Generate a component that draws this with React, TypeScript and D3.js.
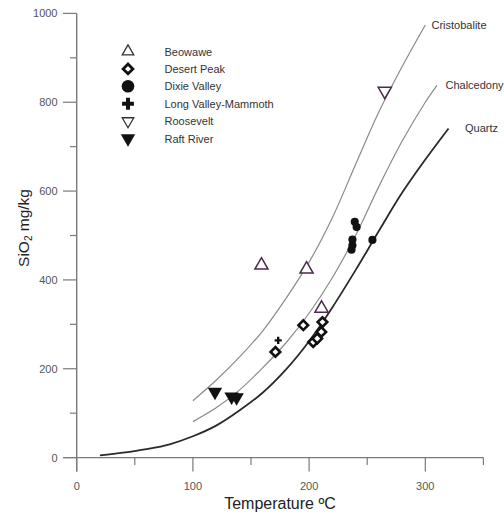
import React from "react";
import * as d3 from "d3";

// Silica geothermometer curves, SiO2 (mg/kg) against temperature (°C)
const cristobaliteT = [100, 120, 140, 160, 180, 200, 220, 240, 260, 280, 300];
const cristobaliteS = [128, 174, 226, 285, 358, 440, 540, 660, 778, 880, 974];

const chalcedonyT = [100, 120, 140, 160, 180, 200, 220, 240, 260, 280, 300, 310];
const chalcedonyS = [81, 112, 152, 202, 258, 325, 405, 500, 610, 712, 800, 838];

const quartzT = [20, 40, 60, 80, 100, 120, 140, 160, 180, 200, 220, 240, 260, 280, 300, 320];
const quartzS = [5, 11, 19, 30, 48, 72, 106, 146, 198, 262, 338, 422, 510, 596, 671, 741];

// Sample sites: temperature (°C) and SiO2 (mg/kg)
const beowaweT = [159, 197.8, 210.7];
const beowaweS = [433, 424, 336];

const desertPeakT = [171, 195, 203.5, 207, 210.5, 211.5];
const desertPeakS = [238, 298, 260, 268, 283, 305];

const dixieT = [239.3, 240.9, 237.3, 237.3, 236.5, 254.5];
const dixieS = [531, 519, 491, 478, 468, 490];

const longValleyT = [173.4];
const longValleyS = [264];

const rooseveltT = [265.1];
const rooseveltS = [825];

const raftT = [119, 133.3, 137.6];
const raftS = [148, 137, 135.5];

const legendNames = [
  "Beowawe",
  "Desert Peak",
  "Dixie Valley",
  "Long Valley-Mammoth",
  "Roosevelt",
  "Raft River",
];

const xTicks = [0, 100, 200, 300];
const xMinor = [50, 150, 250, 350];
const yTicks = [0, 200, 400, 600, 800, 1000];
const yMinor = [100, 300, 500, 700, 900];

const W = 504;
const H = 515;
const FONT = "'Liberation Sans', Arial, sans-serif";

export default function App() {
  const x = d3.scaleLinear().domain([0, 350]).range([76.7, 483.4]);
  const y = d3.scaleLinear().domain([0, 1000]).range([457.6, 13.4]);

  const line = d3
    .line<[number, number]>()
    .x((d) => x(d[0]))
    .y((d) => y(d[1]))
    .curve(d3.curveCatmullRom.alpha(0.5));

  const zip = (a: number[], b: number[]) => a.map((v, i) => [v, b[i]] as [number, number]);

  const triUp = (s: number) => d3.symbol().type(d3.symbolTriangle).size(s)() as string;
  const square = (s: number) => d3.symbol().type(d3.symbolSquare).size(s)() as string;
  const circle = (s: number) => d3.symbol().type(d3.symbolCircle).size(s)() as string;
  const cross = (s: number) => d3.symbol().type(d3.symbolCross).size(s)() as string;

  const purple = "#4a2a4c";
  const axisColor = "#7a7a7a";
  const tickText = "#555";

  // legend symbols
  const legendX = 128;
  const legendY = legendNames.map((_, i) => 51.5 + i * 17.4);
  const legendSymbols = [
    <path key="l0" d={triUp(58)} fill="white" stroke="#333" strokeWidth={1.3} />,
    <path key="l1" d={square(48)} transform="rotate(45)" fill="white" stroke="#111" strokeWidth={2.8} />,
    <path key="l2" d={circle(125)} fill="#111" />,
    <path key="l3" d={cross(78)} fill="#111" />,
    <path key="l4" d={triUp(58)} transform="rotate(180)" fill="white" stroke="#333" strokeWidth={1.3} />,
    <path key="l5" d={triUp(90)} transform="rotate(180)" fill="#111" />,
  ];

  return (
    <svg
      width={W}
      height={H}
      style={{ position: "absolute", left: 0, top: 0, background: "white" }}
      fontFamily={FONT}
    >
      {/* curves */}
      <path d={line(zip(cristobaliteT, cristobaliteS)) || ""} fill="none" stroke="#8a8a8a" strokeWidth={1.2} />
      <path d={line(zip(chalcedonyT, chalcedonyS)) || ""} fill="none" stroke="#8a8a8a" strokeWidth={1.2} />
      <path d={line(zip(quartzT, quartzS)) || ""} fill="none" stroke="#2a2a2a" strokeWidth={1.8} />

      <text x={431.5} y={28.5} fontSize={11} fill="#333">Cristobalite</text>
      <text x={445.5} y={89} fontSize={11} fill="#333">Chalcedony</text>
      <text x={465} y={131.5} fontSize={11} fill="#333">Quartz</text>

      {/* axes */}
      <line x1={x(0)} x2={x(0)} y1={y(1000)} y2={471.5} stroke={axisColor} strokeWidth={1.4} />
      <line x1={63} x2={x(350)} y1={y(0)} y2={y(0)} stroke={axisColor} strokeWidth={1.4} />
      {yTicks.map((t) => (
        <g key={"yt" + t}>
          <line x1={63} x2={x(0)} y1={y(t)} y2={y(t)} stroke={axisColor} strokeWidth={1.2} />
          <text x={57.5} y={y(t) + 4} fontSize={11} fill={tickText} textAnchor="end">
            {t}
          </text>
        </g>
      ))}
      {yMinor.map((t) => (
        <line key={"ym" + t} x1={70} x2={x(0)} y1={y(t)} y2={y(t)} stroke={axisColor} strokeWidth={1.2} />
      ))}
      {xTicks.map((t) => (
        <g key={"xt" + t}>
          <line x1={x(t)} x2={x(t)} y1={y(0)} y2={471.5} stroke={axisColor} strokeWidth={1.2} />
          <text x={x(t)} y={490} fontSize={11} fill={tickText} textAnchor="middle">
            {t}
          </text>
        </g>
      ))}
      {xMinor.map((t) => (
        <line key={"xm" + t} x1={x(t)} x2={x(t)} y1={y(0)} y2={465} stroke={axisColor} strokeWidth={1.2} />
      ))}

      <text x={280} y={509} fontSize={16} fill="#222" textAnchor="middle">
        Temperature ºC
      </text>
      <text transform="translate(29,228) rotate(-90)" fontSize={15.5} fill="#222" textAnchor="middle">
        SiO<tspan fontSize={10} dy={3}>2</tspan>
        <tspan dy={-3}> mg/kg</tspan>
      </text>

      {/* data */}
      {zip(beowaweT, beowaweS).map((d, i) => (
        <path
          key={"b" + i}
          d={triUp(75)}
          transform={`translate(${x(d[0])},${y(d[1])})`}
          fill="white"
          stroke={purple}
          strokeWidth={1.5}
        />
      ))}
      {zip(rooseveltT, rooseveltS).map((d, i) => (
        <path
          key={"r" + i}
          d={triUp(75)}
          transform={`translate(${x(d[0])},${y(d[1])}) rotate(180)`}
          fill="white"
          stroke={purple}
          strokeWidth={1.5}
        />
      ))}
      {zip(raftT, raftS).map((d, i) => (
        <path
          key={"rf" + i}
          d={triUp(90)}
          transform={`translate(${x(d[0])},${y(d[1])}) rotate(180)`}
          fill="#111"
        />
      ))}
      {zip(desertPeakT, desertPeakS).map((d, i) => (
        <path
          key={"dp" + i}
          d={square(46)}
          transform={`translate(${x(d[0])},${y(d[1])}) rotate(45)`}
          fill="white"
          stroke="#111"
          strokeWidth={2.6}
        />
      ))}
      {zip(longValleyT, longValleyS).map((d, i) => (
        <path key={"lv" + i} d={cross(28)} transform={`translate(${x(d[0])},${y(d[1])})`} fill="#111" />
      ))}
      {zip(dixieT, dixieS).map((d, i) => (
        <path key={"dv" + i} d={circle(52)} transform={`translate(${x(d[0])},${y(d[1])})`} fill="#111" />
      ))}

      {/* legend */}
      {legendNames.map((name, i) => (
        <g key={name} transform={`translate(0,${legendY[i]})`}>
          <g transform={`translate(${legendX},0)`}>{legendSymbols[i]}</g>
          <text x={164.5} y={4} fontSize={11} fill="#333">
            {name}
          </text>
        </g>
      ))}
    </svg>
  );
}
